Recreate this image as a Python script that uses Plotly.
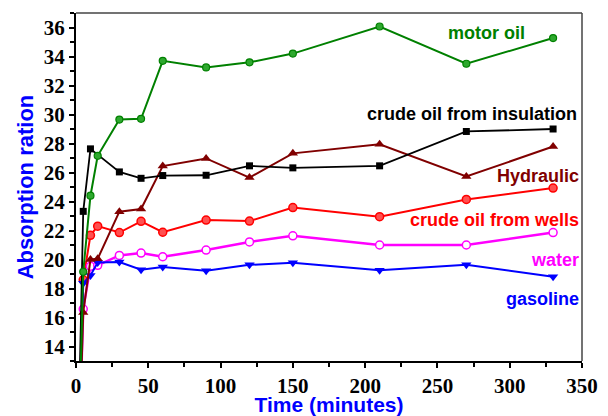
import plotly.graph_objects as go

time_min = [0, 5, 10, 15, 30, 45, 60, 90, 120, 150, 210, 270, 330]

motor_oil = [0, 19.15, 24.4, 27.15, 29.65, 29.7, 33.7, 33.25, 33.6, 34.2, 36.07, 33.5, 35.27]
crude_insulation = [0, 23.32, 27.63, None, 26.04, 25.6, 25.79, 25.81, 26.46, 26.32, 26.46, 28.83, 29.0]
hydraulic = [0, 16.35, 20.0, 20.05, 23.3, 23.48, 26.44, 26.97, 25.65, 27.32, 27.95, 25.72, 27.79]
crude_wells = [0, 18.6, 21.67, 22.3, 21.86, 22.63, 21.88, 22.72, 22.65, 23.58, 22.95, 24.14, 24.93]
water = [0, 16.58, 19.53, 19.6, 20.28, 20.44, 20.19, 20.65, 21.21, 21.63, 21.0, 21.0, 21.86]
gasoline = [0, 18.37, 18.9, 19.8, 19.82, 19.3, 19.49, 19.23, 19.63, 19.77, 19.26, 19.63, 18.81]

y_ticks = [14, 16, 18, 20, 22, 24, 26, 28, 30, 32, 34, 36]
x_ticks = [0, 50, 100, 150, 200, 250, 300, 350]

series = [
    ("crude oil from wells", crude_wells, "#ff0000", dict(symbol="circle", size=8, color="#ff5050", line=dict(color="#ff0000", width=1.5)), 2),
    ("water", water, "#ff00ff", dict(symbol="circle", size=8, color="#ffffff", line=dict(color="#ff00ff", width=1.5)), 2.5),
    ("gasoline", gasoline, "#0000ff", dict(symbol="triangle-down", size=9, color="#0000ff", line=dict(width=0)), 2),
    ("Hydraulic", hydraulic, "#800000", dict(symbol="triangle-up", size=9, color="#800000", line=dict(width=0)), 2),
    ("crude oil from insulation", crude_insulation, "#000000", dict(symbol="square", size=7, color="#000000", line=dict(width=0)), 1.8),
    ("motor oil", motor_oil, "#008000", dict(symbol="circle", size=7, color="#2ea82e", line=dict(color="#008000", width=1.2)), 2),
]

fig = go.Figure()
for name, vals, col, mk, lw in series:
    fig.add_trace(go.Scatter(
        x=time_min, y=vals, mode="lines+markers", name=name,
        line=dict(color=col, width=lw), marker=mk, connectgaps=True,
        cliponaxis=True, showlegend=False,
    ))

labels = [
    ("motor oil", "#008000", 0.8117, 0.943),
    ("crude oil from insulation", "#000000", 0.7820, 0.7105),
    ("Hydraulic", "#800000", 0.9125, 0.5311),
    ("crude oil from wells", "#ff0000", 0.8261, 0.4052),
    ("water", "#ff00ff", 0.9466, 0.2907),
    ("gasoline", "#0000ff", 0.9216, 0.1786),
]
for txt, col, px, py in labels:
    fig.add_annotation(
        x=px, y=py, xref="paper", yref="paper", text="<b>%s</b>" % txt,
        showarrow=False, xanchor="center", yanchor="middle",
        font=dict(family="Liberation Sans, Arial", size=18, color=col),
    )

# thin top/right frame
fig.add_shape(type="line", xref="paper", yref="paper", x0=0, x1=1, y0=1, y1=1,
              line=dict(color="#444444", width=1.5))
fig.add_shape(type="line", xref="paper", yref="paper", x0=1, x1=1, y0=0, y1=1,
              line=dict(color="#444444", width=1.5))

tick_font = dict(family="Liberation Serif", size=21, color="#000000", weight="bold")
fig.update_layout(
    xaxis=dict(
        range=[0, 350], tickvals=x_ticks, ticktext=[str(v) for v in x_ticks],
        ticks="outside", ticklen=5, tickwidth=1.5, tickcolor="#000000",
        minor=dict(ticks="outside", dtick=25, ticklen=4, tickwidth=1.5, tickcolor="#000000"),
        showline=True, linecolor="#000000", linewidth=2, showgrid=False, zeroline=False,
        tickfont=tick_font,
        title=dict(text="<b>Time (minutes)</b>", font=dict(family="Liberation Sans, Arial", size=21, color="#0000ff"), standoff=4),
    ),
    yaxis=dict(
        range=[13, 37], tickvals=y_ticks, ticktext=[str(v) for v in y_ticks],
        ticks="outside", ticklen=5, tickwidth=1.5, tickcolor="#000000",
        minor=dict(ticks="outside", dtick=1, ticklen=4, tickwidth=1.5, tickcolor="#000000"),
        showline=True, linecolor="#000000", linewidth=2, showgrid=False, zeroline=False,
        tickfont=tick_font,
        title=dict(text="<b>Absorption ration</b>", font=dict(family="Liberation Sans, Arial", size=22, color="#0000ff"), standoff=4),
    ),
    # page body has an 8px default margin; figure is sized to compensate
    width=600, height=408,
    margin=dict(l=68, r=26, t=5, b=55, autoexpand=False),
    plot_bgcolor="#ffffff", paper_bgcolor="#ffffff",
    showlegend=False,
)
fig.write_html("out.html")
